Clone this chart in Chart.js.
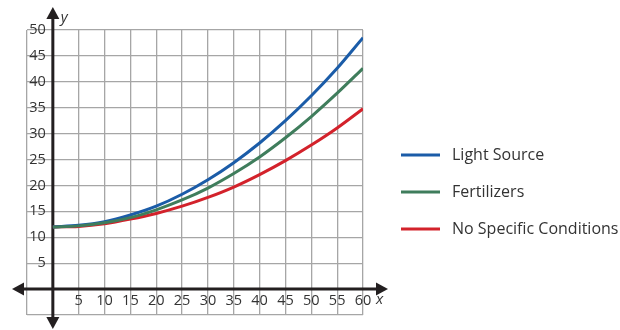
<!DOCTYPE html>
<html>
<head>
<meta charset="utf-8">
<script src="https://cdn.jsdelivr.net/npm/chart.js@4/dist/chart.umd.min.js"></script>
<style>
html,body{margin:0;padding:0;background:#fff;}
#wrap{width:620px;height:330px;position:relative;}
</style>
</head>
<body>
<div id="wrap"><canvas id="c" width="620" height="330"></canvas></div>
<script>
const xValues = [0, 5, 10, 15, 20, 25, 30, 35, 40, 45, 50, 55, 60];
const lightSource = [12, 12.3, 13.0, 14.3, 16.0, 18.3, 21.1, 24.4, 28.2, 32.5, 37.3, 42.6, 48.5];
const fertilizers = [12, 12.2, 12.8, 13.8, 15.3, 17.2, 19.5, 22.3, 25.5, 29.2, 33.3, 37.8, 42.6];
const noSpecific = [12, 12.1, 12.6, 13.5, 14.6, 16.0, 17.7, 19.7, 22.1, 24.8, 27.8, 31.1, 34.8];
const seriesNames = ["Light Source", "Fertilizers", "No Specific Conditions"];
const xTickLabels = [5, 10, 15, 20, 25, 30, 35, 40, 45, 50, 55, 60];
const yTickLabels = [5, 10, 15, 20, 25, 30, 35, 40, 45, 50];

const colors = ["#1b5ca8", "#3f7d5c", "#d3222b"];
const FONT = "'Open Sans', 'Noto Sans', sans-serif";
const TEXT = "#333333";

function pts(arr){ return xValues.map((x,i)=>({x:x, y:arr[i]})); }

const axesPlugin = {
  id: 'axesPlugin',
  beforeDatasetsDraw(chart){
    const ctx = chart.ctx;
    const xs = chart.scales.x, ys = chart.scales.y;
    const x0 = xs.getPixelForValue(0), y0 = ys.getPixelForValue(0);
    const ca = chart.chartArea;
    ctx.save();
    ctx.strokeStyle = '#231f20';
    ctx.fillStyle = '#231f20';
    ctx.lineWidth = 3;
    const xl = ca.left - 15, xr = ca.right + 25;
    ctx.beginPath(); ctx.moveTo(xl + 8, y0); ctx.lineTo(xr - 8, y0); ctx.stroke();
    ctx.beginPath(); ctx.moveTo(xl, y0); ctx.lineTo(xl + 12, y0 - 6.5); ctx.lineTo(xl + 12, y0 + 6.5); ctx.closePath(); ctx.fill();
    ctx.beginPath(); ctx.moveTo(xr, y0); ctx.lineTo(xr - 12, y0 - 6.5); ctx.lineTo(xr - 12, y0 + 6.5); ctx.closePath(); ctx.fill();
    const yt = ca.top - 23, yb = ca.bottom + 14;
    ctx.beginPath(); ctx.moveTo(x0, yt + 8); ctx.lineTo(x0, yb - 8); ctx.stroke();
    ctx.beginPath(); ctx.moveTo(x0, yt); ctx.lineTo(x0 - 6.5, yt + 12); ctx.lineTo(x0 + 6.5, yt + 12); ctx.closePath(); ctx.fill();
    ctx.beginPath(); ctx.moveTo(x0, yb); ctx.lineTo(x0 - 6.5, yb - 12); ctx.lineTo(x0 + 6.5, yb - 12); ctx.closePath(); ctx.fill();
    ctx.fillStyle = TEXT;
    ctx.font = "14.5px " + FONT;
    ctx.textAlign = 'center'; ctx.textBaseline = 'middle';
    xTickLabels.forEach(v => ctx.fillText(String(v), xs.getPixelForValue(v), y0 + 12));
    ctx.textAlign = 'right';
    yTickLabels.forEach(v => ctx.fillText(String(v), x0 - 7, ys.getPixelForValue(v)));
    ctx.font = "italic 15px " + FONT;
    ctx.textAlign = 'left';
    ctx.fillText('x', xs.getPixelForValue(60) + 13, y0 + 11);
    ctx.fillText('y', x0 + 8, ca.top - 12);
    ctx.restore();
  },
  afterDraw(chart){
    const ctx = chart.ctx;
    ctx.save();
    const lx = 401, ly = [155, 192, 229];
    chart.data.datasets.forEach((ds, i) => {
      ctx.strokeStyle = ds.borderColor;
      ctx.lineWidth = 3;
      ctx.beginPath(); ctx.moveTo(lx, ly[i]); ctx.lineTo(lx + 39, ly[i]); ctx.stroke();
      ctx.fillStyle = TEXT;
      ctx.font = "16px " + FONT;
      ctx.textAlign = 'left'; ctx.textBaseline = 'middle';
      ctx.fillText(ds.label, 452, ly[i]);
    });
    ctx.restore();
  }
};

new Chart(document.getElementById('c'), {
  type: 'line',
  data: {
    datasets: [
      { label: seriesNames[0], data: pts(lightSource), borderColor: colors[0], order: 2 },
      { label: seriesNames[1], data: pts(fertilizers), borderColor: colors[1], order: 1 },
      { label: seriesNames[2], data: pts(noSpecific), borderColor: colors[2], order: 3 }
    ]
  },
  options: {
    responsive: false,
    animation: false,
    devicePixelRatio: 1,
    layout: { padding: { left: 27, right: 257, top: 30, bottom: 15 } },
    elements: {
      point: { radius: 0 },
      line: { borderWidth: 3, cubicInterpolationMode: 'monotone', fill: false }
    },
    plugins: { legend: { display: false }, tooltip: { enabled: false } },
    scales: {
      x: {
        type: 'linear', min: -5, max: 60,
        ticks: { display: false, stepSize: 5 },
        grid: { color: '#a6a6a6', lineWidth: 1.3, drawTicks: false },
        border: { display: false },
        afterFit(s){ s.height = 0; }
      },
      y: {
        type: 'linear', min: -5, max: 50,
        ticks: { display: false, stepSize: 5 },
        grid: { color: '#a6a6a6', lineWidth: 1.3, drawTicks: false },
        border: { display: false },
        afterFit(s){ s.width = 0; }
      }
    }
  },
  plugins: [axesPlugin]
});
</script>
</body>
</html>
